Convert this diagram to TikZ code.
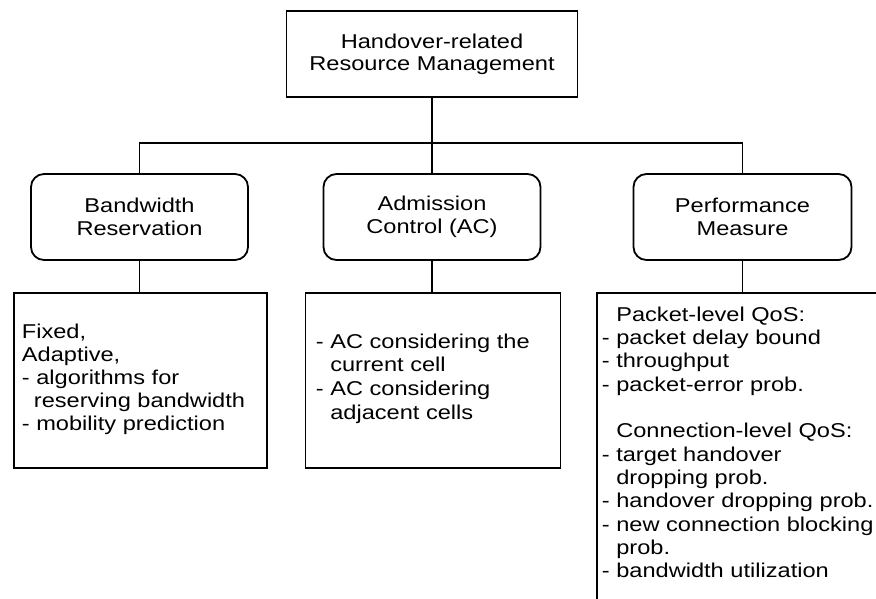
\documentclass[tikz,border=0pt]{standalone}
\usepackage{fontspec}
\setmainfont[FakeStretch=1.18]{Liberation Sans}
\begin{document}
\begin{tikzpicture}[x=1pt,y=-1pt,line width=1.8pt,
  headbox/.style={draw, rectangle, inner sep=0pt, minimum width=291pt, minimum height=86pt,
    align=center, font=\fontsize{20}{22.3}\selectfont},
  catbox/.style={draw, rectangle, rounded corners=13pt, inner sep=0pt, minimum width=217pt,
    minimum height=86pt, align=center, font=\fontsize{20}{22.6}\selectfont},
  listbox/.style={draw, rectangle, inner sep=0pt, anchor=north west},
  listtext/.style={inner sep=0pt, anchor=base west}]
\useasboundingbox (0,0) rectangle (876,598);
\fill[white] (0,0) rectangle (876,598);
\clip (0,0) rectangle (876,598);

% top
\node[headbox] (top) at (432,54) {Handover-related\\Resource Management};

% categories
\node[catbox] (bw) at (139.5,217) {Bandwidth\\Reservation};
\node[catbox] (ac) at (432,217) {Admission\\Control (AC)};
\node[catbox, minimum width=218pt] (pm) at (742.5,217) {Performance\\Measure};

% bus
\coordinate (bus) at (432,143);
\draw (top.south) -- (ac.north);
\draw (bw.north) |- (bus) -| (pm.north);

% detail boxes
\node[listbox, minimum width=253.5pt, minimum height=175pt] (bwd) at (12.75,292) {};
\node[listbox, minimum width=255pt, minimum height=175pt] (acd) at (304.5,292) {};
\node[listbox, minimum width=330pt, minimum height=340pt] (pmd) at (596,292) {};

\draw (bw.south) -- (bw.south |- bwd.north);
\draw (ac.south) -- (ac.south |- acd.north);
\draw (pm.south) -- (pm.south |- pmd.north);

% texts
\node[listtext] (bwt) at (21,338.3) {\fontsize{20}{23.1}\selectfont
  \begin{tabular}[t]{@{}l@{}}Fixed,\\Adaptive,\\- algorithms for\\\hspace{12pt}reserving bandwidth\\- mobility prediction\end{tabular}};
\node[listtext] (act) at (315,348) {\fontsize{20}{23.7}\selectfont
  \begin{tabular}[t]{@{}l@{}}- AC considering the\\\phantom{- }current cell\\- AC considering\\\phantom{- }adjacent cells\end{tabular}};
\node[listtext] (pmt) at (601,321) {\fontsize{20}{23.35}\selectfont
  \begin{tabular}[t]{@{}l@{}}\phantom{- }Packet-level QoS:\\- packet delay bound\\- throughput\\- packet-error prob.\\ \\
  \phantom{- }Connection-level QoS:\\- target handover\\\phantom{- }dropping prob.\\- handover dropping prob.\\- new connection blocking\\\phantom{- }prob.\\- bandwidth utilization\end{tabular}};
\end{tikzpicture}
\end{document}
